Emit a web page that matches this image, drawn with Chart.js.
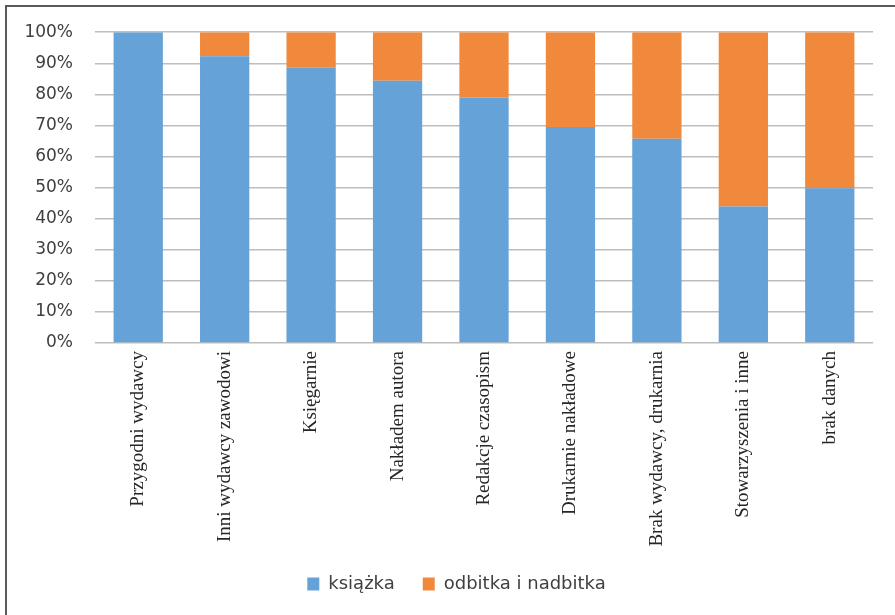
<!DOCTYPE html>
<html>
<head>
<meta charset="utf-8">
<script src="https://cdn.jsdelivr.net/npm/chart.js@4"></script>
<style>
  body { margin: 0; background: #fff; }
  #wrap { position: relative; width: 895px; height: 615px; }
  #frame { position: absolute; left: 5px; top: 5px; right: -10px; bottom: -10px;
           border-left: 2px solid #5a5a5a; border-top: 2px solid #5a5a5a; pointer-events: none; }
</style>
</head>
<body>
<div id="wrap">
  <canvas id="chart" width="895" height="615"></canvas>
  <div id="frame"></div>
</div>
<script>
// publisher categories
const categories = ['Przygodni wydawcy', 'Inni wydawcy zawodowi', 'Księgarnie', 'Nakładem autora',
  'Redakcje czasopism', 'Drukarnie nakładowe', 'Brak wydawcy, drukarnia', 'Stowarzyszenia i inne', 'brak danych'];
const ksiazka = [100, 92.3, 88.6, 84.4, 79, 69.5, 65.7, 43.9, 49.8];
const odbitka = [0, 7.7, 11.4, 15.6, 21, 30.5, 34.3, 56.1, 50.2];
const yTicks = [0, 10, 20, 30, 40, 50, 60, 70, 80, 90, 100];

// nudge legend to the right so it sits centred like the original
const legendShift = {
    id: 'legendShift',
    afterLayout(chart) {
        chart.legend.left += 20;
        chart.legend.right += 20;
    }
};

const ctx = document.getElementById('chart').getContext('2d');
const chart = new Chart(ctx, {
    type: 'bar',
    data: {
        labels: categories,
        datasets: [{
            label: 'książka',
            data: ksiazka,
            backgroundColor: '#64a2d8'
        }, {
            label: 'odbitka i nadbitka',
            data: odbitka,
            backgroundColor: '#f0893b'
        }]
    },
    options: {
        responsive: false,
        animation: false,
        layout: { padding: { left: 0, right: 22, top: 31, bottom: 12 } },
        datasets: { bar: { categoryPercentage: 1, barPercentage: 0.57 } },
        plugins: {
            tooltip: { enabled: false },
            legend: {
                position: 'bottom',
                labels: {
                    boxWidth: 12, boxHeight: 13, padding: 28,
                    color: '#404040',
                    font: { family: 'DejaVu Sans', size: 18 }
                }
            }
        },
        scales: {
            x: {
                stacked: true,
                grid: { display: false },
                border: { display: false },
                ticks: {
                    minRotation: 90, maxRotation: 90, padding: 0,
                    color: '#262626',
                    font: { family: 'Liberation Serif', size: 19 }
                },
                afterFit: (s) => { s.height = 204; }
            },
            y: {
                stacked: true,
                min: 0, max: 100,
                afterBuildTicks: (s) => { s.ticks = yTicks.map(v => ({ value: v })); },
                grid: { color: '#bdbdbd', lineWidth: 1.5, drawTicks: false },
                border: { display: false },
                ticks: {
                    padding: 22,
                    color: '#404040',
                    font: { family: 'DejaVu Sans', size: 17 },
                    callback: (v) => v + '%'
                },
                afterFit: (s) => { s.width = 95; }
            }
        }
    },
    plugins: [legendShift]
});
</script>
</body>
</html>
